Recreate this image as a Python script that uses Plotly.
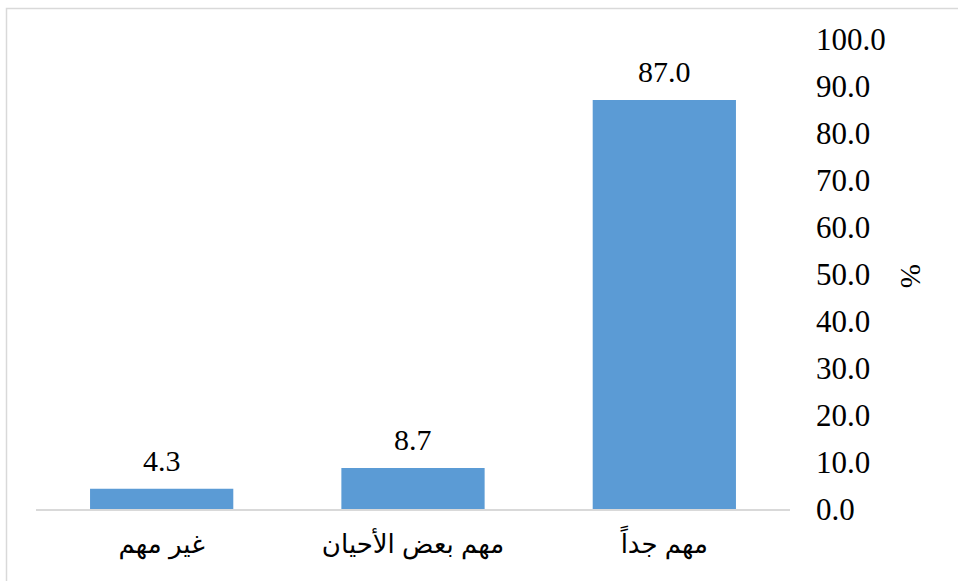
import plotly.graph_objects as go

# Survey responses (percent), ordered left to right
categories = ["غير مهم", "مهم بعض الأحيان", "مهم جداً"]
values = [4.3, 8.7, 87.0]
y_ticks = [0, 10, 20, 30, 40, 50, 60, 70, 80, 90, 100]

W, H = 958, 581
M_L, M_R, M_T, M_B = 36, 168, 39, 72
plot_w = W - M_L - M_R
plot_h = H - M_T - M_B

def px_to_paper_x(px):
    return (px - M_L) / plot_w

def px_to_paper_y(py):
    return (H - M_B - py) / plot_h

num_font = dict(family="Liberation Serif, Times New Roman, serif", size=31, color="#000000")

fig = go.Figure(
    go.Bar(
        x=categories,
        y=values,
        marker=dict(color="#5B9BD5", line=dict(width=0)),
        width=0.57,
        hoverinfo="skip",
    )
)

# value labels above each bar
for c, v in zip(categories, values):
    fig.add_annotation(
        x=c, y=v, xref="x", yref="y",
        text=f"{v:.1f}",
        showarrow=False,
        yanchor="bottom",
        yshift=10,
        font=dict(num_font, size=30),
    )

# axis title on the right
fig.add_annotation(
    x=px_to_paper_x(929), y=px_to_paper_y(276),
    xref="paper", yref="paper",
    text="%",
    textangle=90,
    showarrow=False,
    font=dict(family="Liberation Serif, Times New Roman, serif", size=29, color="#000000"),
)

# outer frame
fig.add_shape(
    type="rect",
    xref="paper", yref="paper",
    x0=px_to_paper_x(6.5), x1=px_to_paper_x(975),
    y0=px_to_paper_y(600), y1=px_to_paper_y(8.5),
    line=dict(color="#D9D9D9", width=1.5),
    fillcolor="rgba(0,0,0,0)",
    layer="below",
)

fig.update_layout(
    width=W, height=H,
    margin=dict(l=M_L, r=M_R, t=M_T, b=M_B, autoexpand=False),
    paper_bgcolor="#FFFFFF",
    plot_bgcolor="#FFFFFF",
    showlegend=False,
    xaxis=dict(
        type="category",
        categoryorder="array",
        categoryarray=categories,
        showline=True,
        linecolor="#D9D9D9",
        linewidth=1.5,
        ticks="",
        showgrid=False,
        zeroline=False,
        tickfont=dict(family="Liberation Sans, Arial, DejaVu Sans, sans-serif", size=26, color="#000000"),
        ticklabelstandoff=11,
        fixedrange=True,
    ),
    yaxis=dict(
        side="right",
        range=[0, 100],
        tickmode="array",
        tickvals=y_ticks,
        ticktext=[f"{t:.1f}" for t in y_ticks],
        showgrid=False,
        zeroline=False,
        showline=False,
        ticks="",
        tickfont=num_font,
        ticklabelstandoff=25,
        fixedrange=True,
    ),
)

fig.write_html("out.html", config={"displayModeBar": False})
